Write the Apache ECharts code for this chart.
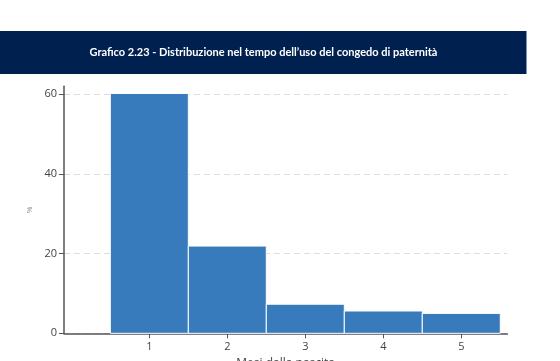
<!DOCTYPE html>
<html>
<head>
<meta charset="utf-8">
<script src="https://cdn.jsdelivr.net/npm/echarts@6/dist/echarts.min.js"></script>
<style>
html,body{margin:0;padding:0;background:#fff;}
#chart{width:560px;height:361px;}
</style>
</head>
<body>
<div id="chart"></div>
<script>
var titleText = "Grafico 2.23 - Distribuzione nel tempo dell\u2019uso del congedo di paternità";
var months = [1, 2, 3, 4, 5];
var shares = [60.2, 21.9, 7.3, 5.6, 5.0];
var yTicks = [0, 20, 40, 60];
var xAxisName = "Mesi dalla nascita";
var yAxisName = "%";

var chart = echarts.init(document.getElementById('chart'), null, {renderer: 'canvas'});
var data = months.map(function (m, i) { return [m, shares[i]]; });

chart.setOption({
  animation: false,
  graphic: [
    {type: 'rect', shape: {x: 0, y: 31, width: 527, height: 43}, style: {fill: '#00214f'}, z: 0},
    {type: 'rect', shape: {x: 526, y: 31, width: 1, height: 43}, style: {fill: '#7d93b5'}, z: 1},
    {type: 'text', x: 263.5, y: 52.5, style: {text: titleText, fill: '#ffffff', font: 'bold 11px Lato', align: 'center', verticalAlign: 'middle'}, z: 2}
  ],
  grid: {left: 64, right: 52.7, top: 86.3, bottom: 27.7, containLabel: false, outerBoundsMode: 'none'},
  xAxis: {
    type: 'value', min: -0.094, max: 5.59, interval: 1,
    name: xAxisName, nameLocation: 'middle', nameGap: 24, nameMoveOverlap: false,
    nameTextStyle: {color: '#444', fontSize: 12, fontFamily: 'Open Sans'},
    axisLine: {show: true, onZero: false, lineStyle: {color: '#555', width: 1.5}},
    axisTick: {show: true, length: 5, lineStyle: {color: '#555'}, customValues: months},
    axisLabel: {color: '#444', fontSize: 11, fontFamily: 'Open Sans', margin: 8, customValues: months},
    splitLine: {show: false}
  },
  yAxis: {
    type: 'value', min: 0, max: 62, interval: 20,
    name: yAxisName, nameLocation: 'middle', nameGap: 30, nameRotate: 90, nameMoveOverlap: false,
    nameTextStyle: {color: '#888', fontSize: 7},
    axisLine: {show: true, onZero: false, lineStyle: {color: '#555', width: 1.5}},
    axisTick: {show: true, length: 5, lineStyle: {color: '#555'}, customValues: yTicks},
    axisLabel: {color: '#444', fontSize: 11, fontFamily: 'Open Sans', margin: 7, customValues: yTicks},
    splitLine: {show: true, lineStyle: {color: '#dcdcdc', type: [6, 4], width: 1}}
  },
  series: [{
    type: 'custom',
    data: data,
    renderItem: function (params, api) {
      var x = api.value(0), y = api.value(1);
      var p1 = api.coord([x - 0.5, y]);
      var p2 = api.coord([x + 0.5, 0]);
      return {
        type: 'rect',
        shape: {x: p1[0], y: p1[1], width: p2[0] - p1[0], height: p2[1] - p1[1]},
        style: {fill: '#377bbd', stroke: '#ffffff', lineWidth: 1}
      };
    },
    encode: {x: 0, y: 1}
  }]
});
</script>
</body>
</html>
